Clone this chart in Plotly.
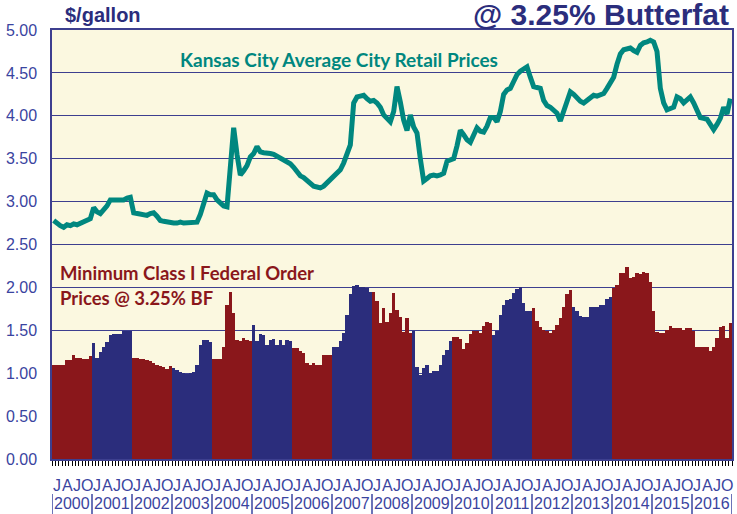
import plotly.graph_objects as go

years = list(range(2000, 2017))
quarter_letters = ["J", "A", "J", "O"]
y_ticks = [0, 0.5, 1, 1.5, 2, 2.5, 3, 3.5, 4, 4.5, 5]

retail = [
    2.78, 2.74, 2.72, 2.70, 2.73, 2.72, 2.74, 2.73, 2.75, 2.76, 2.78, 2.80,  # 2000
    2.93, 2.88, 2.86, 2.90, 2.95, 3.02, 3.02, 3.03, 3.03, 3.02, 3.04, 3.05,  # 2001
    2.87, 2.86, 2.85, 2.85, 2.84, 2.86, 2.87, 2.83, 2.78, 2.77, 2.76, 2.76,  # 2002
    2.75, 2.75, 2.76, 2.75, 2.75, 2.75, 2.76, 2.76, 2.85, 3.00, 3.10, 3.08,  # 2003
    3.08, 3.02, 2.98, 2.95, 2.94, 3.45, 3.86, 3.55, 3.31, 3.36, 3.42, 3.52,  # 2004
    3.56, 3.64, 3.58, 3.57, 3.57, 3.56, 3.55, 3.53, 3.51, 3.49, 3.47, 3.44,  # 2005
    3.40, 3.35, 3.30, 3.28, 3.25, 3.21, 3.18, 3.17, 3.16, 3.18, 3.22, 3.26,  # 2006
    3.30, 3.33, 3.37, 3.45, 3.55, 3.66, 4.15, 4.22, 4.23, 4.24, 4.20, 4.17,  # 2007
    4.18, 4.15, 4.10, 4.01, 3.97, 3.93, 4.05, 4.34, 4.16, 3.95, 3.83, 4.01,  # 2008
    3.87, 3.80, 3.50, 3.24, 3.27, 3.30, 3.31, 3.30, 3.31, 3.33, 3.47, 3.48,  # 2009
    3.50, 3.65, 3.83, 3.78, 3.72, 3.69, 3.78, 3.86, 3.82, 3.81, 3.88, 3.98,  # 2010
    3.98, 3.93, 4.05, 4.25, 4.30, 4.32, 4.40, 4.48, 4.52, 4.55, 4.57, 4.45,  # 2011
    4.34, 4.33, 4.32, 4.18, 4.12, 4.10, 4.06, 4.03, 3.94, 4.05, 4.18, 4.28,  # 2012
    4.25, 4.20, 4.17, 4.15, 4.18, 4.22, 4.24, 4.23, 4.25, 4.26, 4.32, 4.40,  # 2013
    4.45, 4.60, 4.72, 4.77, 4.78, 4.79, 4.76, 4.74, 4.82, 4.85, 4.86, 4.88,  # 2014
    4.86, 4.75, 4.32, 4.15, 4.07, 4.08, 4.10, 4.22, 4.20, 4.15, 4.18, 4.22,  # 2015
    4.15, 4.05, 3.98, 3.97, 3.96, 3.90, 3.84, 3.90, 3.97, 4.10, 4.02, 4.20,  # 2016
]

class_i = [
    1.10, 1.09, 1.10, 1.10, 1.15, 1.15, 1.21, 1.18, 1.18, 1.17, 1.17, 1.20,  # 2000
    1.35, 1.18, 1.25, 1.31, 1.36, 1.45, 1.46, 1.46, 1.46, 1.49, 1.49, 1.49,  # 2001
    1.18, 1.18, 1.17, 1.16, 1.15, 1.14, 1.12, 1.10, 1.08, 1.07, 1.05, 1.08,  # 2002
    1.06, 1.04, 1.01, 1.00, 0.99, 1.00, 1.01, 1.10, 1.33, 1.39, 1.39, 1.36,  # 2003
    1.16, 1.16, 1.16, 1.31, 1.79, 1.95, 1.70, 1.39, 1.37, 1.41, 1.39, 1.37,  # 2004
    1.56, 1.38, 1.46, 1.44, 1.33, 1.39, 1.40, 1.33, 1.39, 1.33, 1.39, 1.38,  # 2005
    1.29, 1.29, 1.26, 1.24, 1.12, 1.10, 1.12, 1.10, 1.10, 1.21, 1.21, 1.21,  # 2006
    1.30, 1.31, 1.37, 1.47, 1.68, 1.92, 2.02, 2.03, 2.01, 2.01, 1.99, 1.95,  # 2007
    1.95, 1.84, 1.58, 1.76, 1.60, 1.70, 1.93, 1.74, 1.66, 1.48, 1.64, 1.47,  # 2008
    1.49, 1.07, 0.98, 1.06, 1.10, 1.00, 1.02, 1.03, 1.10, 1.21, 1.27, 1.38,  # 2009
    1.42, 1.42, 1.40, 1.28, 1.35, 1.46, 1.49, 1.49, 1.47, 1.55, 1.60, 1.58,  # 2010
    1.45, 1.49, 1.68, 1.80, 1.85, 1.87, 1.93, 1.98, 2.00, 1.82, 1.73, 1.73,  # 2011
    1.76, 1.61, 1.54, 1.50, 1.49, 1.47, 1.50, 1.56, 1.64, 1.77, 1.92, 1.97,  # 2012
    1.77, 1.72, 1.67, 1.66, 1.66, 1.77, 1.77, 1.77, 1.80, 1.80, 1.87, 1.89,  # 2013
    1.99, 2.03, 2.17, 2.17, 2.24, 2.11, 2.12, 2.17, 2.16, 2.18, 2.17, 2.06,  # 2014
    1.73, 1.48, 1.47, 1.47, 1.50, 1.55, 1.53, 1.53, 1.53, 1.50, 1.53, 1.53,  # 2015
    1.49, 1.31, 1.31, 1.31, 1.31, 1.26, 1.31, 1.41, 1.54, 1.55, 1.41, 1.58,  # 2016
]

# styles
RED = "#8a171b"
BLUE = "#2b2d7c"
year_colors = [RED, BLUE, RED, BLUE, RED, BLUE, RED, BLUE, RED, BLUE,
               RED, BLUE, RED, BLUE, RED, RED, RED]
NAVY_TXT = "#2b2d7c"
AXIS_TXT = "#3a44a0"
GRID = "#3d3f8f"
TEAL = "#00877f"

n = len(retail)
xs = list(range(n))
bar_colors = [year_colors[i // 12] for i in xs]

fig = go.Figure()
fig.add_trace(go.Bar(x=xs, y=class_i, marker=dict(color=bar_colors, line=dict(width=0)),
                     width=1.0, hoverinfo="skip"))
fig.add_trace(go.Scatter(x=xs, y=retail, mode="lines",
                         line=dict(color=TEAL, width=5), hoverinfo="skip"))

annotations = []
def px_to_paper_y(py):
    return (459 - py) / 429.0

for i, yr in enumerate(years):
    for q, letter in enumerate(quarter_letters):
        annotations.append(dict(x=12 * i + 3 * q + 1, y=px_to_paper_y(485), xref="x", yref="paper",
                                text=letter, showarrow=False, xanchor="center", yanchor="middle",
                                font=dict(family="Liberation Sans", size=16, color=AXIS_TXT)))
    annotations.append(dict(x=12 * i + 5.5, y=px_to_paper_y(503), xref="x", yref="paper",
                            text=str(yr), showarrow=False, xanchor="center", yanchor="middle",
                            font=dict(family="Liberation Sans", size=16, color=AXIS_TXT)))

annotations += [
    dict(x=1.0, xshift=-1, y=px_to_paper_y(15), xref="paper", yref="paper",
         text="<b>@ 3.25% Butterfat</b>", showarrow=False, xanchor="right", yanchor="middle",
         font=dict(family="Liberation Sans", size=30, color=NAVY_TXT)),
    dict(x=(63 - 52) / 682, y=px_to_paper_y(15), xref="paper", yref="paper",
         text="<b>$/gallon</b>", showarrow=False, xanchor="left", yanchor="middle",
         font=dict(family="Liberation Sans", size=20, color=NAVY_TXT)),
    dict(x=(178 - 52) / 682, y=px_to_paper_y(60), xref="paper", yref="paper",
         text="<b>Kansas City Average City Retail Prices</b>", showarrow=False,
         xanchor="left", yanchor="middle",
         font=dict(family="Lato", size=19, color=TEAL)),
    dict(x=(58 - 52) / 682, y=px_to_paper_y(273), xref="paper", yref="paper",
         text="<b>Minimum Class I Federal Order</b>", showarrow=False,
         xanchor="left", yanchor="middle",
         font=dict(family="Lato", size=18.5, color=RED)),
    dict(x=(58 - 52) / 682, y=px_to_paper_y(298), xref="paper", yref="paper",
         text="<b>Prices @ 3.25% BF</b>", showarrow=False,
         xanchor="left", yanchor="middle",
         font=dict(family="Lato", size=18.5, color=RED)),
]

shapes = []
for i in range(len(years) + 1):
    shapes.append(dict(type="line", xref="x", yref="paper",
                       x0=12 * i - 0.5, x1=12 * i - 0.5,
                       y0=px_to_paper_y(494), y1=px_to_paper_y(514),
                       line=dict(color=AXIS_TXT, width=1.5)))

fig.update_layout(
    width=737, height=514,
    margin=dict(l=52, r=3, t=30, b=55),
    paper_bgcolor="white",
    plot_bgcolor="#fbf8e0",
    showlegend=False,
    bargap=0,
    annotations=annotations,
    shapes=shapes,
)
fig.update_xaxes(
    range=[-0.5, n - 0.5],
    tickmode="array",
    tickvals=[i - 0.5 for i in range(n + 1)],
    ticktext=["" for _ in range(n + 1)],
    ticks="outside", ticklen=5, tickcolor="black", tickwidth=1,
    showgrid=False, zeroline=False,
    showline=True, linecolor=GRID, linewidth=1.5, mirror=True,
)
fig.update_yaxes(
    range=[0, 5],
    tickmode="array", tickvals=y_ticks,
    tickformat=".2f",
    tickfont=dict(family="Liberation Sans", size=16, color=AXIS_TXT),
    ticks="", ticklabelstandoff=10,
    showgrid=True, gridcolor=GRID, gridwidth=1.3,
    zeroline=False,
    showline=True, linecolor=GRID, linewidth=1.5, mirror=True,
)

fig.write_html(
    "out.html",
    config={"displayModeBar": False},
    post_script="document.body.style.margin='0';document.body.style.padding='0';"
                "document.body.style.overflow='hidden';",
)
